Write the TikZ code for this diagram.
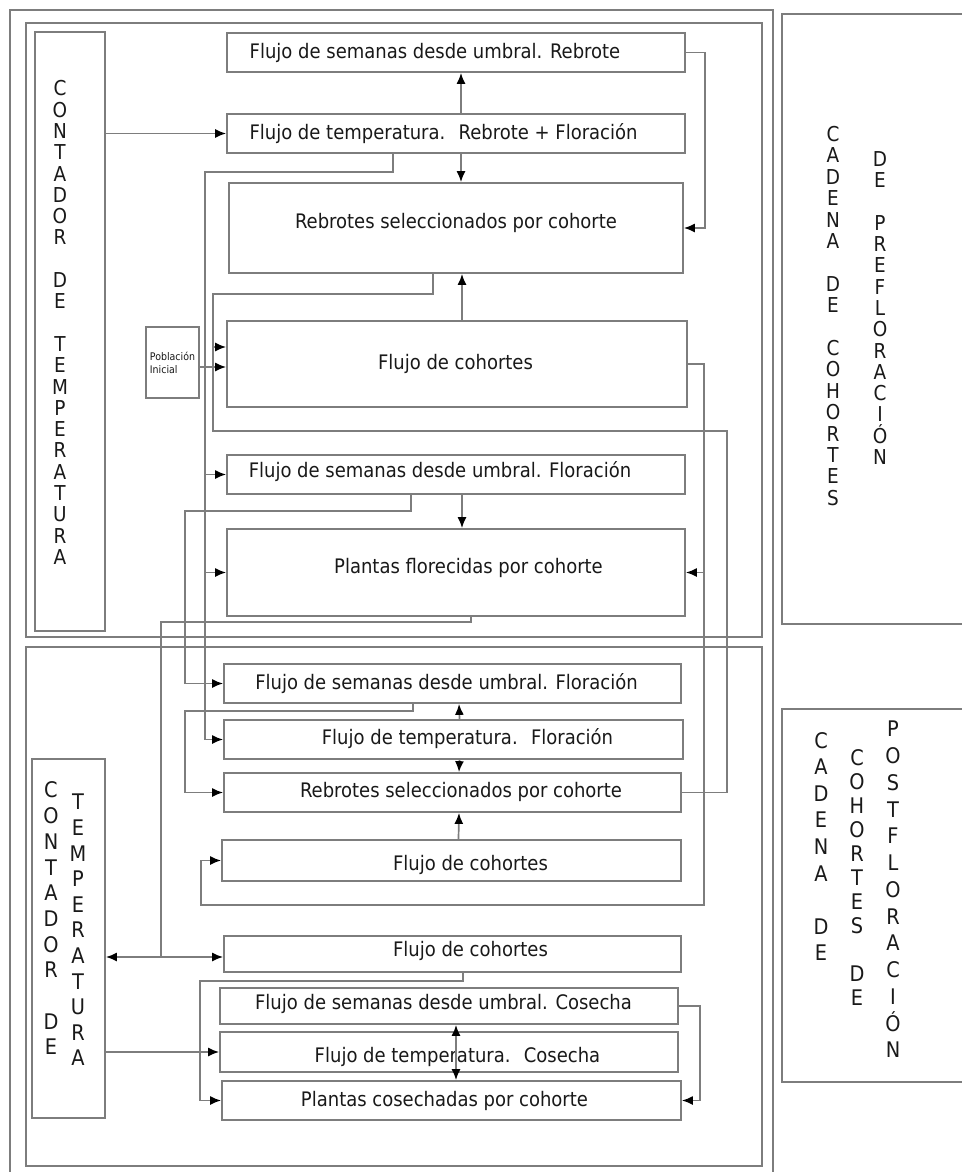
\documentclass[tikz,border=0pt]{standalone}
\usepackage{fontspec}
\setmainfont{DejaVu Sans Condensed}
\usetikzlibrary{arrows.meta}
\definecolor{linegray}{RGB}{125,125,125}
\definecolor{inkgray}{RGB}{25,25,25}
\tikzset{
  box/.style={draw=linegray, line width=1.7pt, inner sep=0pt},
  boxtext/.style={font=\fontsize{20}{24}\selectfont, text=inkgray, inner sep=0pt},
  vtext/.style={align=center, inner sep=0pt, text=inkgray},
  link/.style={draw=linegray, line width=1.7pt},
  arr/.style={link, -{Latex[length=11pt,width=9pt,color=black]}},
  dblarr/.style={link, {Latex[length=11pt,width=9pt,color=black]}-{Latex[length=11pt,width=9pt,color=black]}},
  frame/.style={draw=linegray, line width=1.7pt}
}

\begin{document}
\begin{tikzpicture}[x=1pt, y=-1pt]
\useasboundingbox (0,0) rectangle (961,1172);

% frames
\draw[frame] (10,10) rectangle (773,1190);
\draw[frame] (26,23) rectangle (762,637);
\draw[frame] (26,647) rectangle (762,1166);
\draw[frame] (782,14) rectangle (980,624);
\draw[frame] (782,709) rectangle (980,1082);

% flow boxes: name/cx/cy/w/h/text shift x/text shift y/text
\foreach \n/\cx/\cy/\w/\h/\dx/\dy/\t in
  { semreb/456/52.5/458/39/-21/0/{Flujo de semanas desde umbral. Rebrote},
    tempreb/456/133.5/458/39/-12.5/0/{Flujo de temperatura.~ Rebrote + Floración},
    rebsel/456/228/454/90/0/5/{Rebrotes seleccionados por cohorte},
    cohup/457/364/460/86/-1.5/0/{Flujo de cohortes},
    semflo/456/474.5/458/39/-16/3/{Flujo de semanas desde umbral. Floración},
    florec/456/572.5/458/87/12.5/5/{Plantas florecidas por cohorte},
    semflo2/452.5/683.5/457/39/-6/0/{Flujo de semanas desde umbral. Floración},
    tempflo/453.5/739.5/459/39/14/1/{Flujo de temperatura.~ Floración},
    rebsel2/452.5/792.5/457/39/8.5/1/{Rebrotes seleccionados por cohorte},
    coh2/451.5/860.5/459/41/19/-4/{Flujo de cohortes},
    coh3/452.5/954/457/36/18/3/{Flujo de cohortes},
    semcos/449/1006/458/36/-5.5/2/{Flujo de semanas desde umbral. Cosecha},
    tempcos/449/1052/458/40/8.5/-5/{Flujo de temperatura.~ Cosecha},
    cosech/451.5/1100.5/459/39/-7/0/{Plantas cosechadas por cohorte}
  }
  \node[box, minimum width=\w, minimum height=\h,
        label={[boxtext, xshift=\dx, yshift=\dy]center:\t}] (\n) at (\cx,\cy) {};

\node[box, minimum width=53, minimum height=71, align=left,
      font=\fontsize{10.5}{13}\selectfont, text=inkgray] (pobini) at (172.5,362.5) {Población\\Inicial};

% temperature counters
\node[box, minimum width=70, minimum height=599] (ctup) at (70,331.5) {};
\node[box, minimum width=73, minimum height=359] (ctlow) at (68.5,938.5) {};

% vertical texts
\node[vtext, font=\fontsize{20.5}{21.3}\selectfont] (ctup-t) at (60,322.5)
  {C\\O\\N\\T\\A\\D\\O\\R\\[21.3pt]D\\E\\[21.3pt]T\\E\\M\\P\\E\\R\\A\\T\\U\\R\\A};
\node[vtext, font=\fontsize{21.5}{25.7}\selectfont] (ctlow-a) at (51,918.5)
  {C\\O\\N\\T\\A\\D\\O\\R\\[25.7pt]D\\E};
\node[vtext, font=\fontsize{21.5}{25.6}\selectfont] (ctlow-b) at (78,930)
  {T\\E\\M\\P\\E\\R\\A\\T\\U\\R\\A};
\node[vtext, font=\fontsize{20.5}{21.4}\selectfont] (preflo-a) at (833,316)
  {C\\A\\D\\E\\N\\A\\[21.4pt]D\\E\\[21.4pt]C\\O\\H\\O\\R\\T\\E\\S};
\node[vtext, font=\fontsize{20.5}{21.3}\selectfont] (preflo-b) at (880,308)
  {D\\E\\[21.3pt]P\\R\\E\\F\\L\\O\\R\\A\\C\\I\\Ó\\N};
\node[vtext, font=\fontsize{21.5}{26.6}\selectfont] (postflo-a) at (821,846.5)
  {C\\A\\D\\E\\N\\A\\[26.6pt]D\\E};
\node[vtext, font=\fontsize{21.5}{24}\selectfont] (postflo-b) at (857,878)
  {C\\O\\H\\O\\R\\T\\E\\S\\[24pt]D\\E};
\node[vtext, font=\fontsize{21.5}{26.75}\selectfont] (postflo-c) at (893,889.5)
  {P\\O\\S\\T\\F\\L\\O\\R\\A\\C\\I\\Ó\\N};

% junction points of the long lines
\coordinate (busa) at (205,172);
\coordinate (busc) at (213,294);
\coordinate (busb) at (704,905);
\coordinate (junc) at (161,957);

% upper block
\draw[arr] (ctup.east |- tempreb.west) -- (tempreb.west);
\draw[arr] ([xshift=5pt]tempreb.north) -- ([xshift=5pt]semreb.south);
\draw[arr] ([xshift=5pt]tempreb.south) -- ([xshift=5pt]rebsel.north);
\draw[arr] (semreb.east) -- ++(19,0) |- (rebsel.east);
\draw[arr] ([xshift=5pt]cohup.north) -- ([xshift=6pt]rebsel.south);
\draw[arr] (tempreb.south -| 393,0) |- (busa) |- (tempflo.west);
\draw[arr] (busa |- semflo.west) -- (semflo.west);
\draw[arr] (busa |- florec.west) -- (florec.west);
\draw[link] (rebsel.south -| 433,0) |- (busc) |- (727,431) |- (rebsel2.east);
\draw[arr] (busc |- 0,347) -- (cohup.west |- 0,347);
\draw[arr] (pobini.east |- 0,367) -- (cohup.west |- 0,367);
\draw[arr] (cohup.east) -| (busb) -| ([xshift=-20pt]coh2.west) -- (coh2.west);
\draw[arr] (busb |- florec.east) -- (florec.east);
\draw[arr] (semflo.south -| 411,0) |- (185,511) |- (semflo2.west);
\draw[arr] ([xshift=6pt]semflo.south) -- ([xshift=6pt]florec.north);
\draw[link] (florec.south -| 471,0) |- (161,622) -- (junc);

% lower block
\draw[dblarr] (ctlow.east |- junc) -- (coh3.west |- junc);
\draw[arr] (semflo2.south -| 413,0) |- (185,711) |- (rebsel2.west);
\draw[arr] ([xshift=6pt]tempflo.north) -- ([xshift=6.5pt]semflo2.south);
\draw[arr] ([xshift=6pt]tempflo.south) -- ([xshift=6.5pt]rebsel2.north);
\draw[arr] ([xshift=7pt]coh2.north) -- ([xshift=6.5pt]rebsel2.south);
\draw[arr] (coh3.south -| 463,0) |- (200,981) |- (cosech.west);
\draw[arr] (ctlow.east |- tempcos.west) -- (tempcos.west);
\draw[arr] (semcos.east) -- ++(21,0) |- (cosech.east);
\coordinate (tc) at ([xshift=7pt]tempcos.center);
\draw[arr] (tc) -- (tc |- semcos.south);
\draw[arr] (tc) -- (tc |- cosech.north);
\end{tikzpicture}
\end{document}
